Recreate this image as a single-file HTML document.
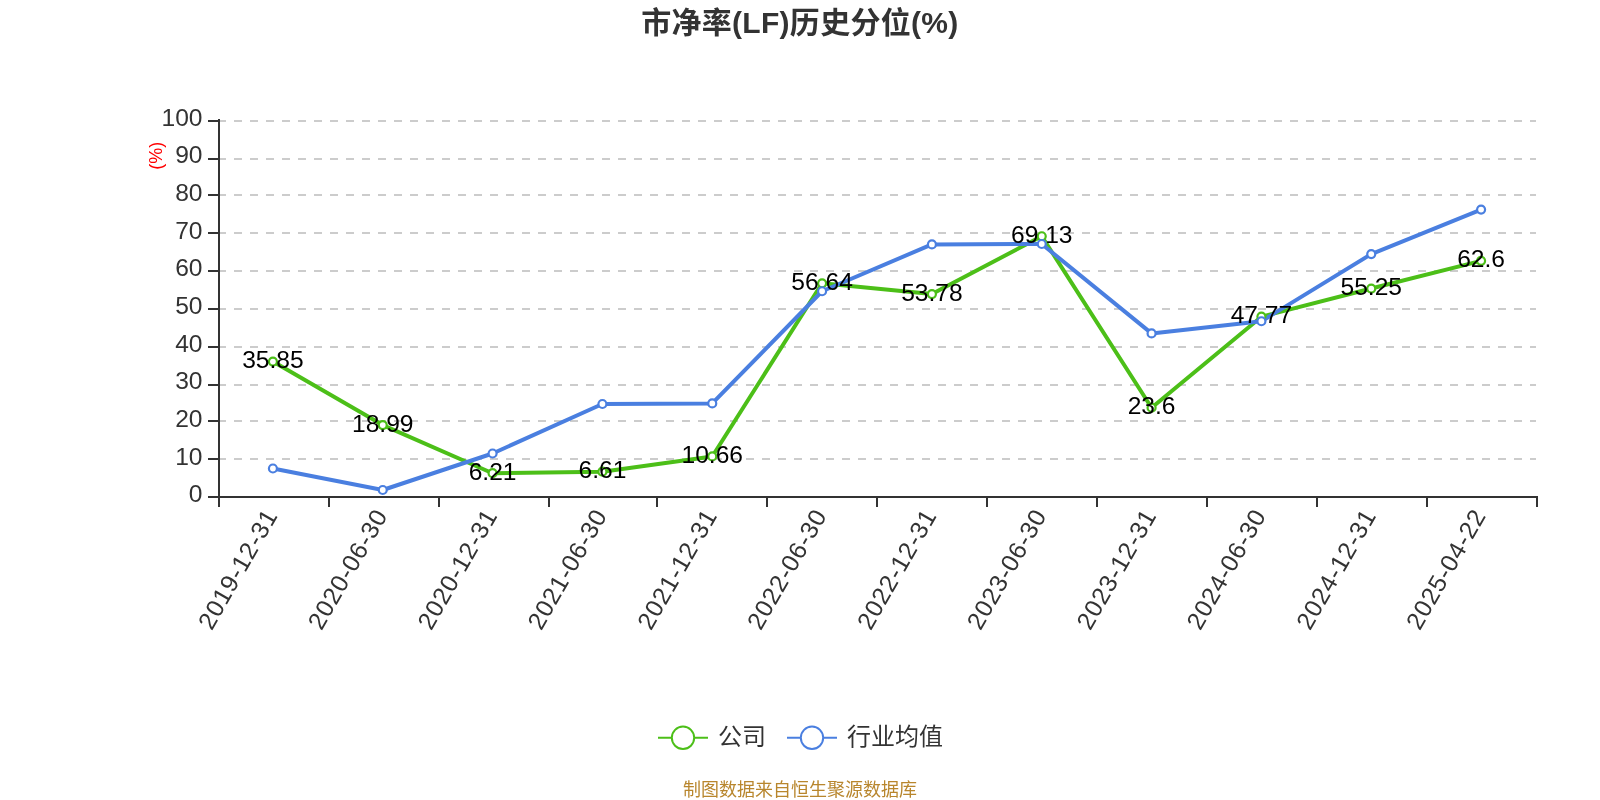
<!DOCTYPE html>
<html lang="zh-CN">
<head>
<meta charset="utf-8">
<title>市净率(LF)历史分位(%)</title>
<style>
html,body{margin:0;padding:0;background:#ffffff;}
body{width:1600px;height:800px;overflow:hidden;font-family:"Liberation Sans", "Noto Sans CJK SC", sans-serif;}
svg text{white-space:pre;}
</style>
</head>
<body>
<svg role="img" aria-label="市净率(LF)历史分位(%)" width="1600" height="800" viewBox="0 0 1600 800" style="display:block;will-change:transform">
<rect width="1600" height="800" fill="#ffffff"/>
<g class="split-lines" stroke="#cccccc" stroke-width="2" stroke-dasharray="8 8" fill="none">
<line x1="218" y1="459" x2="1536" y2="459"/>
<line x1="218" y1="421" x2="1536" y2="421"/>
<line x1="218" y1="385" x2="1536" y2="385"/>
<line x1="218" y1="347" x2="1536" y2="347"/>
<line x1="218" y1="309" x2="1536" y2="309"/>
<line x1="218" y1="271" x2="1536" y2="271"/>
<line x1="218" y1="233" x2="1536" y2="233"/>
<line x1="218" y1="195" x2="1536" y2="195"/>
<line x1="218" y1="159" x2="1536" y2="159"/>
<line x1="218" y1="121" x2="1536" y2="121"/>
</g>
<g class="axes" stroke="#333333" stroke-width="2" fill="none">
<line x1="219" y1="119" x2="219" y2="498"/>
<line x1="218" y1="497" x2="1538" y2="497"/>
<line x1="208" y1="497" x2="219" y2="497"/>
<line x1="208" y1="459" x2="219" y2="459"/>
<line x1="208" y1="421" x2="219" y2="421"/>
<line x1="208" y1="385" x2="219" y2="385"/>
<line x1="208" y1="347" x2="219" y2="347"/>
<line x1="208" y1="309" x2="219" y2="309"/>
<line x1="208" y1="271" x2="219" y2="271"/>
<line x1="208" y1="233" x2="219" y2="233"/>
<line x1="208" y1="195" x2="219" y2="195"/>
<line x1="208" y1="159" x2="219" y2="159"/>
<line x1="208" y1="121" x2="219" y2="121"/>
<line x1="219" y1="497" x2="219" y2="507"/>
<line x1="329" y1="497" x2="329" y2="507"/>
<line x1="439" y1="497" x2="439" y2="507"/>
<line x1="549" y1="497" x2="549" y2="507"/>
<line x1="657" y1="497" x2="657" y2="507"/>
<line x1="767" y1="497" x2="767" y2="507"/>
<line x1="877" y1="497" x2="877" y2="507"/>
<line x1="987" y1="497" x2="987" y2="507"/>
<line x1="1097" y1="497" x2="1097" y2="507"/>
<line x1="1207" y1="497" x2="1207" y2="507"/>
<line x1="1317" y1="497" x2="1317" y2="507"/>
<line x1="1427" y1="497" x2="1427" y2="507"/>
<line x1="1537" y1="497" x2="1537" y2="507"/>
</g>
<g font-family='"Liberation Sans", "Noto Sans CJK SC", sans-serif' font-size="24.6" fill="#333333" text-anchor="end" class="y-labels">
<text x="202.5" y="502.40">0</text>
<text x="202.5" y="464.74">10</text>
<text x="202.5" y="427.08">20</text>
<text x="202.5" y="389.42">30</text>
<text x="202.5" y="351.76">40</text>
<text x="202.5" y="314.10">50</text>
<text x="202.5" y="276.44">60</text>
<text x="202.5" y="238.78">70</text>
<text x="202.5" y="201.12">80</text>
<text x="202.5" y="163.46">90</text>
<text x="202.5" y="125.80">100</text>
</g>
<text transform="translate(162.3 155.8) rotate(-90)" font-family='"Liberation Sans", "Noto Sans CJK SC", sans-serif' font-size="18" fill="#ff0000" text-anchor="middle">(%)</text>
<g font-family='"Liberation Sans", "Noto Sans CJK SC", sans-serif' font-size="24.6" fill="#333333" text-anchor="end" letter-spacing="0.8" class="x-labels">
<text transform="translate(272.92 512) rotate(-60)" x="0" y="6.5">2019-12-31</text>
<text transform="translate(382.75 512) rotate(-60)" x="0" y="6.5">2020-06-30</text>
<text transform="translate(492.58 512) rotate(-60)" x="0" y="6.5">2020-12-31</text>
<text transform="translate(602.42 512) rotate(-60)" x="0" y="6.5">2021-06-30</text>
<text transform="translate(712.25 512) rotate(-60)" x="0" y="6.5">2021-12-31</text>
<text transform="translate(822.08 512) rotate(-60)" x="0" y="6.5">2022-06-30</text>
<text transform="translate(931.92 512) rotate(-60)" x="0" y="6.5">2022-12-31</text>
<text transform="translate(1041.75 512) rotate(-60)" x="0" y="6.5">2023-06-30</text>
<text transform="translate(1151.58 512) rotate(-60)" x="0" y="6.5">2023-12-31</text>
<text transform="translate(1261.42 512) rotate(-60)" x="0" y="6.5">2024-06-30</text>
<text transform="translate(1371.25 512) rotate(-60)" x="0" y="6.5">2024-12-31</text>
<text transform="translate(1481.08 512) rotate(-60)" x="0" y="6.5">2025-04-22</text>
</g>
<polyline points="272.92,361.59 382.75,425.08 492.58,473.21 602.42,471.71 712.25,456.45 822.08,283.29 931.92,294.06 1041.75,236.26 1151.58,407.72 1261.42,316.70 1371.25,288.53 1481.08,260.85" fill="none" stroke="#4cbf18" stroke-width="4" stroke-linejoin="bevel" stroke-linecap="butt"/>
<polyline points="272.92,468.50 382.75,490.00 492.58,453.50 602.42,404.00 712.25,403.40 822.08,291.25 931.92,244.40 1041.75,244.00 1151.58,333.40 1261.42,321.25 1371.25,254.10 1481.08,209.60" fill="none" stroke="#4a7fe0" stroke-width="4" stroke-linejoin="bevel" stroke-linecap="butt"/>
<g font-family='"Liberation Sans", "Noto Sans CJK SC", sans-serif' font-size="24.6" fill="#000000" text-anchor="middle" class="series-company">
<circle cx="272.92" cy="361.59" r="4" fill="#ffffff" stroke="#4cbf18" stroke-width="2.2"/>
<text x="272.92" y="368.09">35.85</text>
<circle cx="382.75" cy="425.08" r="4" fill="#ffffff" stroke="#4cbf18" stroke-width="2.2"/>
<text x="382.75" y="431.58">18.99</text>
<circle cx="492.58" cy="473.21" r="4" fill="#ffffff" stroke="#4cbf18" stroke-width="2.2"/>
<text x="492.58" y="479.71">6.21</text>
<circle cx="602.42" cy="471.71" r="4" fill="#ffffff" stroke="#4cbf18" stroke-width="2.2"/>
<text x="602.42" y="478.21">6.61</text>
<circle cx="712.25" cy="456.45" r="4" fill="#ffffff" stroke="#4cbf18" stroke-width="2.2"/>
<text x="712.25" y="462.95">10.66</text>
<circle cx="822.08" cy="283.29" r="4" fill="#ffffff" stroke="#4cbf18" stroke-width="2.2"/>
<text x="822.08" y="289.79">56.64</text>
<circle cx="931.92" cy="294.06" r="4" fill="#ffffff" stroke="#4cbf18" stroke-width="2.2"/>
<text x="931.92" y="300.56">53.78</text>
<circle cx="1041.75" cy="236.26" r="4" fill="#ffffff" stroke="#4cbf18" stroke-width="2.2"/>
<text x="1041.75" y="242.76">69.13</text>
<circle cx="1151.58" cy="407.72" r="4" fill="#ffffff" stroke="#4cbf18" stroke-width="2.2"/>
<text x="1151.58" y="414.22">23.6</text>
<circle cx="1261.42" cy="316.70" r="4" fill="#ffffff" stroke="#4cbf18" stroke-width="2.2"/>
<text x="1261.42" y="323.20">47.77</text>
<circle cx="1371.25" cy="288.53" r="4" fill="#ffffff" stroke="#4cbf18" stroke-width="2.2"/>
<text x="1371.25" y="295.03">55.25</text>
<circle cx="1481.08" cy="260.85" r="4" fill="#ffffff" stroke="#4cbf18" stroke-width="2.2"/>
<text x="1481.08" y="267.35">62.6</text>
</g>
<circle cx="272.92" cy="468.50" r="4" fill="#ffffff" stroke="#4a7fe0" stroke-width="2.2"/>
<circle cx="382.75" cy="490.00" r="4" fill="#ffffff" stroke="#4a7fe0" stroke-width="2.2"/>
<circle cx="492.58" cy="453.50" r="4" fill="#ffffff" stroke="#4a7fe0" stroke-width="2.2"/>
<circle cx="602.42" cy="404.00" r="4" fill="#ffffff" stroke="#4a7fe0" stroke-width="2.2"/>
<circle cx="712.25" cy="403.40" r="4" fill="#ffffff" stroke="#4a7fe0" stroke-width="2.2"/>
<circle cx="822.08" cy="291.25" r="4" fill="#ffffff" stroke="#4a7fe0" stroke-width="2.2"/>
<circle cx="931.92" cy="244.40" r="4" fill="#ffffff" stroke="#4a7fe0" stroke-width="2.2"/>
<circle cx="1041.75" cy="244.00" r="4" fill="#ffffff" stroke="#4a7fe0" stroke-width="2.2"/>
<circle cx="1151.58" cy="333.40" r="4" fill="#ffffff" stroke="#4a7fe0" stroke-width="2.2"/>
<circle cx="1261.42" cy="321.25" r="4" fill="#ffffff" stroke="#4a7fe0" stroke-width="2.2"/>
<circle cx="1371.25" cy="254.10" r="4" fill="#ffffff" stroke="#4a7fe0" stroke-width="2.2"/>
<circle cx="1481.08" cy="209.60" r="4" fill="#ffffff" stroke="#4a7fe0" stroke-width="2.2"/>
<line x1="658" y1="737.8" x2="708" y2="737.8" stroke="#4cbf18" stroke-width="2"/><circle cx="683" cy="737.8" r="11.2" fill="#ffffff" stroke="#4cbf18" stroke-width="2"/>
<line x1="787" y1="737.8" x2="837" y2="737.8" stroke="#4a7fe0" stroke-width="2"/><circle cx="812" cy="737.8" r="11.2" fill="#ffffff" stroke="#4a7fe0" stroke-width="2"/>
<g font-family='"Liberation Sans", "Noto Sans CJK SC", sans-serif' font-size="24" fill="#333333">
<text x="718" y="744.5">公司</text>
<text x="847" y="744.5">行业均值</text>
</g>
<text x="799.9" y="33" font-family='"Liberation Sans", "Noto Sans CJK SC", sans-serif' font-size="30" font-weight="bold" fill="#333333" text-anchor="middle" letter-spacing="0.3">市净率(LF)历史分位(%)</text>
<text x="800" y="796" font-family='"Liberation Sans", "Noto Sans CJK SC", sans-serif' font-size="18" fill="#b8862d" text-anchor="middle">制图数据来自恒生聚源数据库</text>
</svg>
</body>
</html>
